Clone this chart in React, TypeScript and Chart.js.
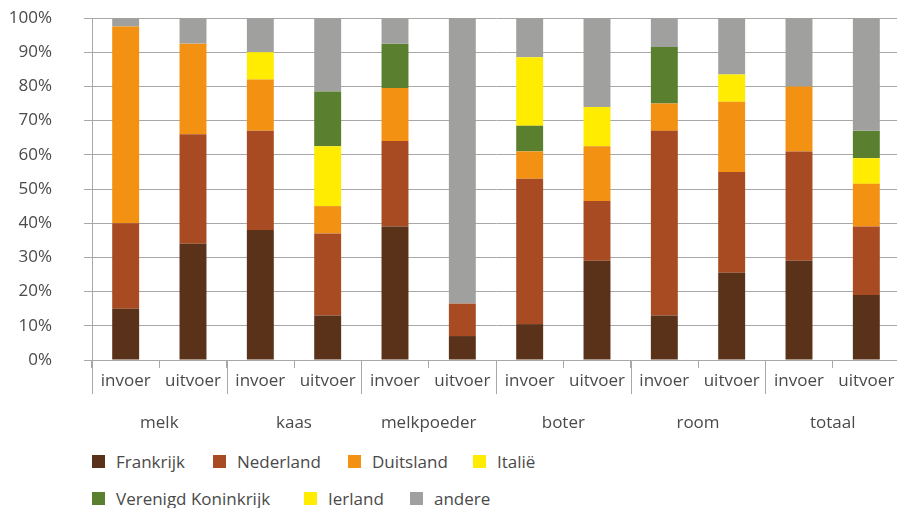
import React, { useEffect, useRef } from "react";
import { Chart, registerables } from "chart.js";

Chart.register(...registerables);

// ---- data ----
const groups = ["melk", "kaas", "melkpoeder", "boter", "room", "totaal"];
const subLabels = [
  "invoer", "uitvoer", "invoer", "uitvoer", "invoer", "uitvoer",
  "invoer", "uitvoer", "invoer", "uitvoer", "invoer", "uitvoer",
];
const yTicks = [0, 10, 20, 30, 40, 50, 60, 70, 80, 90, 100];

const frankrijk = [15, 34, 38, 13, 39, 7, 10.5, 29, 13, 25.5, 29, 19];
const nederland = [25, 32, 29, 24, 25, 9.5, 42.5, 17.5, 54, 29.5, 32, 20];
const duitsland = [57.5, 26.5, 15, 8, 15.5, 0, 8, 16, 8, 20.5, 19, 12.5];
const italie = [0, 0, 8, 17.5, 0, 0, 0, 11.5, 0, 8, 0, 7.5];
const verenigdKoninkrijk = [0, 0, 0, 16, 13, 0, 7.5, 0, 16.5, 0, 0, 8];
const ierland = [0, 0, 0, 0, 0, 0, 20, 0, 0, 0, 0, 0];
const andere = [2.5, 7.5, 10, 21.5, 7.5, 83.5, 11.5, 26, 8.5, 16.5, 20, 33];

const seriesNames = [
  "Frankrijk", "Nederland", "Duitsland", "Italië",
  "Verenigd Koninkrijk", "Ierland", "andere",
];
const seriesValues = [frankrijk, nederland, duitsland, italie, verenigdKoninkrijk, ierland, andere];

// ---- styles ----
const seriesColors = ["#5a3119", "#a84b23", "#f29112", "#ffec00", "#5a7f2f", "#ffec00", "#a0a09f"];
const legendRows = [[0, 1, 2, 3], [4, 5, 6]];
const legendLefts = [[92, 213, 348, 473], [92, 304, 410]];
const legendCenters = [461, 498];
const FONT = "'Open Sans', 'Noto Sans', sans-serif";
const FS = 17;
const TEXT = "#4a4a4a";
const GRID = "#a8a8a8";

const groupSeparators = {
  id: "groupSeparators",
  afterDraw(chart: any) {
    const xs = chart.scales.x;
    const ctx = chart.ctx;
    const n = subLabels.length;
    const slot = (xs.right - xs.left) / n;
    const top = chart.chartArea.bottom;
    ctx.save();
    ctx.strokeStyle = GRID;
    ctx.lineWidth = 1;
    for (let i = 0; i <= n; i += 2) {
      const x = Math.round(xs.left + i * slot) + 0.5;
      ctx.beginPath();
      ctx.moveTo(x, top);
      ctx.lineTo(x, top + 34);
      ctx.stroke();
    }
    ctx.restore();
  },
};

function ChartCanvas() {
  const ref = useRef<HTMLCanvasElement | null>(null);
  useEffect(() => {
    if (!ref.current) return;
    const chart = new Chart(ref.current, {
      type: "bar",
      data: {
        labels: subLabels,
        datasets: seriesNames.map((name, i) => ({
          label: name,
          data: seriesValues[i],
          backgroundColor: seriesColors[i],
          borderWidth: 0,
          categoryPercentage: 1,
          barPercentage: 0.4,
        })),
      },
      options: {
        animation: false,
        responsive: true,
        maintainAspectRatio: false,
        layout: { padding: { top: 18, left: 0, right: 0, bottom: 0 } },
        plugins: { legend: { display: false }, tooltip: { enabled: false } },
        scales: {
          x: {
            type: "category",
            stacked: true,
            offset: true,
            grid: {
              offset: true,
              drawOnChartArea: false,
              drawTicks: true,
              tickLength: 8,
              color: GRID,
            },
            border: { display: true, color: GRID, width: 1 },
            ticks: {
              font: { family: FONT, size: FS },
              color: TEXT,
              padding: 3,
              maxRotation: 0,
              autoSkip: false,
            },
            afterFit: (s: any) => { s.height = 32; },
          },
          x2: {
            type: "category",
            axis: "x",
            position: "bottom",
            labels: groups,
            offset: true,
            grid: { display: false, drawTicks: false },
            border: { display: false },
            ticks: {
              font: { family: FONT, size: FS },
              color: TEXT,
              padding: 21,
              maxRotation: 0,
              autoSkip: false,
            },
            afterFit: (s: any) => { s.height = 48; },
          },
          y: {
            stacked: true,
            min: 0,
            max: 100,
            afterBuildTicks: (s: any) => { s.ticks = yTicks.map((v) => ({ value: v })); },
            grid: { color: GRID, tickLength: 8, lineWidth: 1 },
            border: { display: true, color: GRID, width: 1 },
            ticks: {
              font: { family: FONT, size: FS },
              color: TEXT,
              padding: 32,
              callback: (v: any) => `${v}%`,
            },
            afterFit: (s: any) => { s.width = 92; s.paddingTop = 0; s.paddingBottom = 0; },
          },
        },
      } as any,
      plugins: [groupSeparators],
    });
    return () => chart.destroy();
  }, []);
  return <canvas ref={ref} />;
}

export default function App() {
  return (
    <div
      style={{
        position: "absolute",
        left: 0,
        top: 0,
        width: 897,
        height: 508,
        overflow: "hidden",
        background: "#fff",
        fontFamily: FONT,
      }}
    >
      <div style={{ position: "absolute", left: 0, top: 0, width: 900, height: 440 }}>
        <ChartCanvas />
      </div>
      {legendRows.map((row, r) =>
        row.map((si, k) => (
          <div
            key={`${r}-${k}`}
            style={{
              position: "absolute",
              left: legendLefts[r][k],
              top: legendCenters[r] - 12,
              height: 24,
              display: "flex",
              alignItems: "center",
              whiteSpace: "nowrap",
              fontSize: FS,
              color: TEXT,
            }}
          >
            <span
              style={{
                display: "inline-block",
                width: 13,
                height: 13,
                background: seriesColors[si],
                marginRight: 11,
              }}
            />
            <span>{seriesNames[si]}</span>
          </div>
        ))
      )}
    </div>
  );
}
